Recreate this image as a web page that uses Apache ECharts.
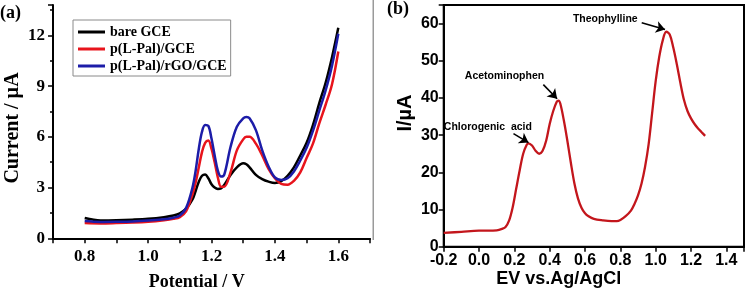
<!DOCTYPE html>
<html><head><meta charset="utf-8">
<script src="https://cdn.jsdelivr.net/npm/echarts@6/dist/echarts.min.js"></script>
<style>html,body{margin:0;padding:0;background:#fff}#c{width:745px;height:292px}</style>
</head><body><div id="c"></div>
<script>
// ---- Panel (a) data ----
const potentialA = [0.80,0.85,0.90,0.95,1.00,1.05,1.08,1.10,1.12,1.14,1.15,1.16,1.17,1.18,1.19,1.20,1.21,1.22,1.23,1.24,1.26,1.28,1.30,1.31,1.32,1.34,1.36,1.38,1.40,1.42,1.44,1.46,1.48,1.50,1.52,1.54,1.56,1.58,1.60];
const bareGCE    = [1.20,1.06,1.07,1.10,1.15,1.25,1.35,1.48,1.75,2.30,2.80,3.35,3.70,3.78,3.55,3.20,3.00,2.92,2.95,3.15,3.75,4.20,4.44,4.38,4.20,3.75,3.50,3.35,3.27,3.38,3.70,4.20,4.90,5.65,6.70,8.00,9.20,10.70,12.45];
const pLPalGCE   = [0.90,0.88,0.90,0.93,0.98,1.07,1.15,1.25,1.60,2.60,3.30,4.20,5.10,5.65,5.78,5.30,4.50,3.60,3.05,3.05,3.90,5.20,5.85,6.00,6.00,5.60,4.90,4.10,3.55,3.22,3.17,3.40,3.90,4.75,5.60,6.80,7.90,9.10,11.05];
const pLPalRGO   = [1.02,0.97,0.98,1.00,1.05,1.12,1.22,1.35,1.80,3.00,4.00,5.30,6.30,6.70,6.65,5.90,4.90,4.00,3.65,3.75,5.40,6.60,7.10,7.17,7.10,6.40,5.20,4.25,3.60,3.45,3.55,3.95,4.60,5.35,6.35,7.55,8.75,10.20,12.10];
const seriesNamesA = ['bare GCE','p(L-Pal)/GCE','p(L-Pal)/rGO/GCE'];
const ticksA_y = [0,3,6,9,12];

// ---- Panel (b) data ----
const potentialB = [-0.20,-0.10,0.00,0.05,0.10,0.13,0.15,0.17,0.19,0.21,0.23,0.25,0.27,0.28,0.30,0.32,0.34,0.36,0.38,0.40,0.42,0.44,0.45,0.46,0.48,0.50,0.52,0.54,0.56,0.58,0.60,0.62,0.65,0.70,0.75,0.78,0.80,0.83,0.86,0.88,0.90,0.92,0.94,0.96,0.98,1.00,1.02,1.04,1.06,1.08,1.10,1.12,1.14,1.16,1.18,1.20,1.22,1.24,1.26,1.28];
const currentB   = [3.7,4.0,4.3,4.3,4.4,4.8,5.3,7.0,10.5,15.5,20.5,25.0,27.4,27.8,27.2,25.8,25.0,25.8,28.5,33.0,36.5,39.0,39.3,38.5,34.0,28.5,22.5,17.0,13.0,10.5,9.0,8.2,7.5,7.1,6.9,6.9,7.2,8.2,9.7,11.5,13.8,17.0,21.5,27.5,36.0,44.5,51.0,55.5,57.8,57.0,53.5,49.0,44.0,39.5,36.5,34.5,33.0,31.8,30.8,29.8];
const annotationLabels = ['Chlorogenic  acid','Acetominophen','Theophylline'];
const annotationAnchor = [[0.05,32.2],[0.144,46.0],[0.715,61.3]];
const arrowFrom = [[0.195,30.4],[0.364,43.6],[0.921,60.2]];
const arrowTo   = [[0.280,28.0],[0.442,39.8],[1.053,58.4]];

const SERIF = '"Liberation Serif", "Times New Roman", serif';
const SANS = '"Liberation Sans", Arial, sans-serif';
const zip = (xs, ys) => xs.map((x, i) => [x, ys[i]]);

const chart = echarts.init(document.getElementById('c'));
const colorsA = ['#000000', '#e8141c', '#1c1ca8'];
const dataA = [bareGCE, pLPalGCE, pLPalRGO];

const option = {
  animation: false,
  backgroundColor: '#fff',
  grid: [
    {left: 53, top: 5, width: 317, height: 233.3, outerBoundsMode: 'none'},
    {left: 443.7, top: 5, right: 1, height: 241.7, show: true, borderColor: '#000', borderWidth: 2, outerBoundsMode: 'none'}
  ],
  xAxis: [
    {gridIndex: 0, type: 'value', position: 'bottom', min: 0.7, max: 1.7, interval: 0.1,
     axisLine: {onZero: false, lineStyle: {color: '#000', width: 2}},
     axisTick: {show: true, inside: false, length: 5, lineStyle: {width: 1.5, color:'#000'}},
     splitLine: {show: false},
     axisLabel: {margin: 10, color: '#000', fontFamily: SERIF, fontWeight: 'bold', fontSize: 17,
       formatter: v => { const r = Math.round(v * 10); return (r % 2 === 0 && r >= 8 && r <= 16) ? (r/10).toFixed(1) : ''; }}},
    {gridIndex: 1, type: 'value', position: 'bottom', min: -0.2, max: 1.5, interval: 0.2,
     axisLine: {onZero: false, lineStyle: {color: '#000', width: 2}},
     axisTick: {show: true, inside: false, length: 5, lineStyle: {width: 1.5, color:'#000'}},
     splitLine: {show: false},
     axisLabel: {margin: 6, color: '#000', fontFamily: SANS, fontWeight: 'bold', fontSize: 16,
       formatter: v => { const r = Math.round(v * 10); return r > 14 ? '' : (r/10).toFixed(1); }}}
  ],
  yAxis: [
    {gridIndex: 0, type: 'value', position: 'left', min: 0, max: 13.8, interval: 3,
     axisLine: {show: true, onZero: false, lineStyle: {color: '#000', width: 2}},
     axisTick: {show: true, inside: false, length: 5, lineStyle: {width: 1.5, color:'#000'}},
     minorTick: {show: true, splitNumber: 2, length: 3, lineStyle: {color:'#000', width: 1.5}},
     splitLine: {show: false},
     axisLabel: {margin: 8, color: '#000', fontFamily: SERIF, fontWeight: 'bold', fontSize: 17,
       formatter: v => ticksA_y.includes(Math.round(v)) ? String(Math.round(v)) : ''}},
    {gridIndex: 1, type: 'value', position: 'left', min: 0, max: 65, interval: 10,
     axisLine: {show: true, onZero: false, lineStyle: {color: '#000', width: 2}},
     axisTick: {show: true, inside: false, length: 5, lineStyle: {width: 1.5, color:'#000'}},
     splitLine: {show: false},
     axisLabel: {margin: 5, color: '#000', fontFamily: SANS, fontWeight: 'bold', fontSize: 16,
       formatter: v => v > 60 ? '' : String(v)}}
  ],
  legend: {
    left: 73, top: 20, orient: 'vertical', data: seriesNamesA,
    icon: 'rect', itemWidth: 27, itemHeight: 3, itemGap: 1,
    padding: [4, 4, 2, 5], borderColor: '#8a8a8a', borderWidth: 1,
    textStyle: {fontFamily: SERIF, fontWeight: 'bold', fontSize: 14, color: '#000', lineHeight: 16}
  },
  series: [
    ...dataA.map((d, i) => ({
      name: seriesNamesA[i], type: 'line', xAxisIndex: 0, yAxisIndex: 0,
      data: zip(potentialA, d), smooth: 0.35, showSymbol: false, symbol: 'none',
      lineStyle: {color: colorsA[i], width: 2.5}, itemStyle: {color: colorsA[i]}
    })),
    {
      name: 'DPV', type: 'line', xAxisIndex: 1, yAxisIndex: 1,
      data: zip(potentialB, currentB), smooth: 0.35, showSymbol: false, symbol: 'none',
      lineStyle: {color: '#c3161c', width: 2.3}, itemStyle: {color: '#c3161c'},
      markPoint: {
        symbol: 'circle', symbolSize: 0, silent: true,
        label: {show: true, position: 'inside', color: '#000', fontFamily: SANS, fontWeight: 'bold', fontSize: 10.5,
                formatter: p => p.name},
        data: annotationLabels.map((t, i) => ({name: t, coord: annotationAnchor[i]}))
      },
      markLine: {
        silent: true, symbol: ['none', 'arrow'], symbolSize: 9,
        lineStyle: {color: '#000', width: 1.6, type: 'solid'},
        label: {show: false},
        data: arrowFrom.map((f, i) => [{coord: f}, {coord: arrowTo[i]}])
      }
    }
  ],
  graphic: [
    {type: 'rect', x: 372.5, y: 0, shape: {x: 0, y: 0, width: 1.5, height: 240}, style: {fill: '#9a9a9a'}},
    {type: 'text', x: 0, y: 4, style: {text: '(a)', font: 'bold 18px ' + SERIF, fill: '#000'}},
    {type: 'text', x: 387, y: 0, style: {text: '(b)', font: 'bold 18px ' + SERIF, fill: '#000'}},
    {type: 'text', x: 13, y: 128, rotation: Math.PI / 2,
     style: {text: 'Current / µA', font: 'bold 20px ' + SERIF, fill: '#000', textAlign: 'center', textVerticalAlign: 'middle'}},
    {type: 'text', x: 196.7, y: 282, style: {text: 'Potential / V', font: 'bold 18px ' + SERIF, fill: '#000', textAlign: 'center', textVerticalAlign: 'middle'}},
    {type: 'text', x: 405, y: 113, rotation: Math.PI / 2,
     style: {text: 'I/µA', font: 'bold 20px ' + SANS, fill: '#000', textAlign: 'center', textVerticalAlign: 'middle'}},
    {type: 'text', x: 558.7, y: 279, style: {text: 'EV vs.Ag/AgCl', font: 'bold 18px ' + SANS, fill: '#000', textAlign: 'center', textVerticalAlign: 'middle'}}
  ]
};
chart.setOption(option);
</script>
</body></html>
